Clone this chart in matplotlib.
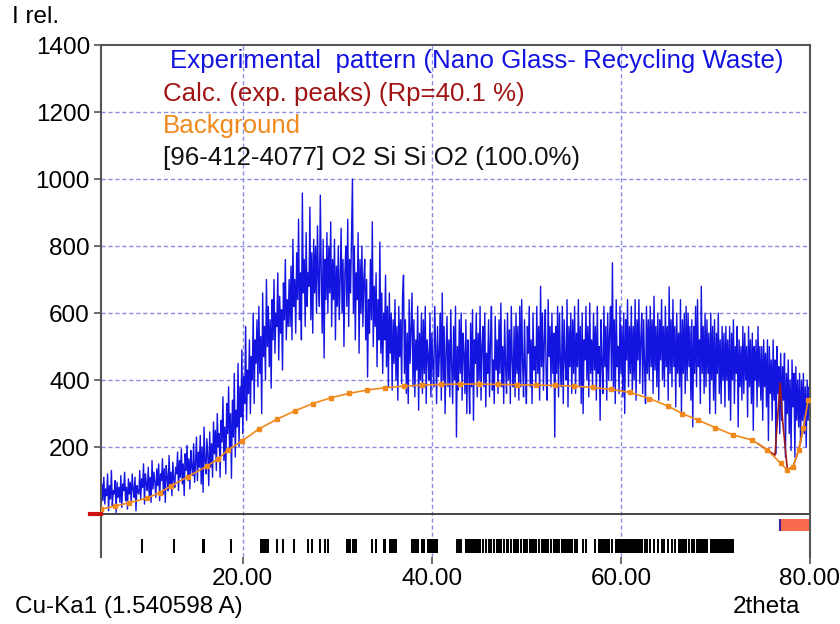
import numpy as np
import matplotlib
matplotlib.use('Agg')
import matplotlib.pyplot as plt

plt.rcParams['font.family'] = ['Liberation Sans', 'DejaVu Sans']

# Experimental pattern, one value every 0.1 deg from 5.0 to 80.0
two_theta_start = 5.0
two_theta_step = 0.1
intensity = [
    20, 90, 40, 110, 30, 75, 55, 120, 10, 85, 45, 130, 25, 70, 60, 100, 5, 95, 50, 80,
    35, 115, 20, 90, 70, 125, 40, 80, 15, 105, 60, 95, 30, 120, 75, 50, 110, 10, 85, 65,
    60, 130, 45, 105, 80, 150, 30, 120, 90, 70, 140, 55, 110, 35, 160, 75, 125, 95, 50, 135,
    85, 150, 40, 120, 100, 165, 60, 135, 35, 145, 110, 70, 175, 90, 125, 55, 155, 105, 80, 140,
    120, 185, 70, 160, 110, 195, 90, 150, 55, 180, 130, 205, 100, 165, 75, 190, 140, 115, 210, 95,
    150, 230, 100, 185, 140, 235, 90, 200, 65, 260, 160, 120, 225, 175, 85, 245, 140, 210, 110, 275,
    180, 250, 130, 300, 200, 240, 110, 280, 215, 350, 160, 260, 120, 330, 240, 380, 190, 300, 107, 340,
    230, 420, 170, 310, 260, 450, 200, 380, 290, 490, 240, 410, 330, 560, 280, 430, 360, 520, 300, 470,
    400, 600, 330, 520, 450, 580, 380, 620, 420, 530, 300, 660, 470, 560, 400, 700, 500, 620, 440, 580,
    376, 640, 520, 700, 480, 600, 560, 720, 460, 650, 540, 610, 430, 690, 580, 760, 520, 640, 560, 700,
    560, 740, 520, 820, 620, 700, 540, 780, 640, 880, 580, 720, 520, 958, 660, 760, 560, 840, 620, 720,
    680, 916, 580, 780, 540, 820, 660, 800, 600, 860, 700, 620, 952, 720, 540, 820, 466, 760, 640, 840,
    600, 800, 660, 872, 560, 760, 640, 820, 520, 740, 620, 800, 580, 700, 853, 600, 760, 500, 720, 800,
    620, 880, 560, 760, 660, 840, 1000, 600, 800, 520, 720, 640, 840, 480, 760, 600, 800, 560, 700, 760,
    520, 700, 409, 640, 540, 760, 580, 872, 500, 680, 560, 720, 440, 640, 520, 812, 480, 660, 420, 600,
    520, 713, 440, 620, 380, 660, 480, 600, 370, 580, 450, 640, 400, 560, 340, 620, 470, 580, 390, 650,
    713, 420, 580, 360, 540, 330, 640, 450, 560, 660, 380, 580, 350, 520, 430, 620, 310, 540, 400, 600,
    360, 580, 420, 620, 330, 520, 470, 400, 600, 350, 540, 440, 380, 620, 500, 330, 560, 410, 480, 600,
    340, 660, 400, 560, 300, 480, 590, 380, 520, 350, 610, 440, 330, 560, 400, 620, 230, 500, 370, 580,
    420, 600, 340, 540, 480, 360, 580, 300, 520, 420, 300, 570, 380, 610, 280, 520, 450, 600, 350, 540,
    400, 620, 340, 500, 560, 380, 600, 320, 480, 420, 580, 350, 520, 620, 370, 460, 330, 590, 430, 520,
    360, 580, 420, 630, 380, 500, 330, 580, 440, 360, 600, 400, 550, 330, 620, 460, 380, 560, 350, 600,
    420, 560, 340, 620, 380, 640, 450, 350, 580, 420, 330, 560, 480, 620, 380, 520, 330, 600, 430, 500,
    380, 620, 420, 560, 340, 680, 440, 600, 370, 520, 610, 400, 340, 640, 470, 560, 380, 600, 420, 540,
    230, 560, 420, 620, 350, 600, 450, 380, 620, 330, 580, 460, 400, 640, 320, 560, 440, 600, 360, 580,
    420, 620, 360, 540, 440, 640, 380, 560, 330, 600, 300, 520, 460, 620, 400, 560, 350, 630, 420, 520,
    380, 600, 430, 560, 340, 620, 420, 500, 280, 580, 450, 360, 620, 440, 560, 340, 600, 400, 540, 620,
    400, 750, 380, 580, 330, 640, 440, 500, 360, 620, 420, 560, 350, 600, 300, 580, 460, 640, 380, 560,
    420, 620, 360, 560, 400, 640, 340, 580, 460, 640, 390, 520, 600, 360, 580, 440, 330, 620, 420, 580,
    400, 620, 440, 580, 360, 650, 430, 560, 380, 600, 340, 580, 460, 640, 400, 560, 380, 620, 440, 560,
    340, 678, 420, 580, 380, 640, 440, 560, 320, 600, 420, 540, 380, 640, 300, 580, 420, 600, 360, 620,
    400, 600, 440, 560, 340, 580, 260, 560, 420, 620, 380, 640, 440, 520, 330, 680, 420, 560, 360, 600,
    380, 580, 420, 540, 300, 600, 400, 560, 340, 580, 300, 540, 420, 600, 360, 520, 330, 560, 400, 540,
    320, 560, 400, 520, 340, 560, 280, 540, 400, 580, 330, 500, 420, 560, 260, 520, 380, 500, 340, 560,
    360, 540, 400, 500, 290, 560, 380, 520, 330, 540, 250, 500, 400, 520, 320, 560, 380, 500, 340, 500,
    280, 520, 380, 480, 320, 520, 220, 500, 360, 460, 280, 520, 340, 460, 180, 500, 360, 440, 240, 480,
    280, 440, 340, 480, 170, 420, 300, 460, 240, 400, 190, 460, 320, 420, 170, 440, 280, 400, 260, 420,
    210, 400, 280, 420, 240, 380, 200, 400, 280, 380, 360,
]

# Background curve points
bg_theta = [5.0, 6.5, 8.0, 9.9, 11.2, 12.4, 14.2, 16.2, 17.4, 18.4, 19.9, 21.7, 23.6,
            25.5, 27.4, 29.3, 31.2, 33.1, 35.0, 37.0, 39.0, 41.0, 43.0, 45.0, 47.0,
            49.0, 51.0, 53.0, 55.0, 57.0, 59.0, 61.0, 63.0, 65.0, 66.5, 68.2, 70.0,
            71.9, 73.9, 75.5, 76.9, 77.6, 78.2, 78.8, 79.3, 79.8]
bg_value = [15, 24, 34, 48, 64, 84, 112, 143, 165, 191, 218, 254, 283,
            308, 330, 347, 360, 370, 377, 382, 385, 387, 388, 388, 387,
            386, 385, 384, 382, 378, 372, 363, 345, 322, 300, 280, 258,
            236, 221, 191, 152, 131, 140, 191, 257, 340]

# Calculated pattern where it leaves the background
calc_theta = [74.5, 75.5, 76.3, 76.6, 76.85, 77.1, 77.6, 78.2, 78.8, 79.3]
calc_value = [210, 191, 176, 300, 391, 280, 134, 140, 191, 257]

# Phase reflection markers
phase_lines = [9.3, 12.7, 18.8, 21.9, 22.05, 22.2, 22.35, 22.5, 22.65, 23.6, 24.2,
               25.4, 26.9, 27.3, 28.2, 28.7, 29.0, 33.7, 34.1, 37.9, 38.1, 38.3,
               38.5, 42.7, 42.9, 43.1, 45.4, 45.7, 46.0, 46.3, 46.6, 47.6, 48.4,
               49.4, 50.1, 51.3, 52.6, 53.5, 55.1, 55.4, 56.0, 56.3, 57.3, 59.1,
               62.5, 62.8, 63.1, 63.5, 63.9, 64.3, 64.6, 65.0, 65.4, 65.7, 67.2,
               68.0]
phase_blocks = [(15.7, 16.0), (30.9, 31.4), (31.6, 32.1), (34.8, 35.1), (35.5, 36.3),
                (38.8, 39.3), (39.5, 40.6), (43.5, 45.2), (46.8, 47.4), (47.8, 48.2),
                (48.6, 49.2), (49.6, 50.0), (50.3, 51.1), (51.5, 52.4), (52.8, 53.3),
                (53.7, 54.9), (57.6, 58.8), (59.4, 62.3), (66.0, 67.0), (67.4, 67.8),
                (68.2, 69.2), (69.4, 72.0)]

excluded_start = 76.85
excluded_end = 80.0

x_ticks = [20, 40, 60, 80]
y_ticks = [200, 400, 600, 800, 1000, 1200, 1400]

legend_lines = [
    ('Experimental  pattern (Nano Glass- Recycling Waste)', '#1414e0'),
    ('Calc. (exp. peaks) (Rp=40.1 %)', '#a01414'),
    ('Background', '#f08a1c'),
    ('[96-412-4077] O2 Si Si O2 (100.0%)', '#111111'),
]

theta = two_theta_start + two_theta_step * np.arange(len(intensity))

fig = plt.figure(figsize=(8.4, 6.24), dpi=100)
ax = fig.add_axes([101 / 840, 1 - 557 / 624, 709 / 840, 512 / 624])

grid_color = '#8c8ce0'
for gx in x_ticks[:-1]:
    ax.axvline(gx, color=grid_color, lw=1, ls=(0, (3, 2)), zorder=0)
for gy in y_ticks[:-1]:
    ax.axhline(gy, color=grid_color, lw=1, ls=(0, (3, 2)), zorder=0)
ax.axhline(0, color='#444444', lw=1.4, zorder=1)

ax.plot(theta, intensity, color='#1414e0', lw=1.0, zorder=2)
ax.plot(calc_theta, calc_value, color='#9c1a1a', lw=1.2, zorder=3)
ax.plot(bg_theta, bg_value, color='#f08a1c', lw=1.2, marker='s', ms=3.2,
        mec='#f08a1c', zorder=4)

# start marker of the calculated curve, just left of the axis
ax.plot([3.8, 5.0], [0, 0], color='#d01010', lw=3, clip_on=False, zorder=5)

# phase tick marks under the zero line
ax.vlines(phase_lines, -116, -75, color='black', lw=1.4)
ax.broken_barh([(a, b - a) for a, b in phase_blocks], (-116, 41), color='black', lw=0)

# excluded region
ax.broken_barh([(excluded_start, excluded_end - excluded_start)], (-51, 36),
               color='#fa6a4c', lw=0)
ax.vlines([excluded_start], -51, -15, color='#4020a0', lw=1.5)

ax.set_xlim(5, 80)
ax.set_ylim(-128, 1400)
ax.set_xticks(x_ticks)
ax.set_xticklabels(['{:.2f}'.format(v) for v in x_ticks])
ax.set_yticks(y_ticks)
ax.tick_params(labelsize=17.5, length=5, width=1.2, color='#555555', pad=3)

for side in ['left', 'right', 'top']:
    ax.spines[side].set_color('#555555')
    ax.spines[side].set_linewidth(1.5)
ax.spines['bottom'].set_visible(False)

for i, (label, color) in enumerate(legend_lines):
    x0 = 170 if i == 0 else 163
    fig.text(x0 / 840, 1 - (61 + 32.5 * i) / 624, label, color=color, fontsize=18.6,
             va='center', ha='left')

fig.text(12 / 840, 1 - 17 / 624, 'I rel.', fontsize=17.5, va='center', ha='left')
fig.text(15 / 840, 1 - 607 / 624, 'Cu-Ka1 (1.540598 A)', fontsize=17.5, va='center', ha='left')
fig.text(800 / 840, 1 - 607 / 624, '2theta', fontsize=17.5, va='center', ha='right')

fig.savefig('out.png', dpi=100)
